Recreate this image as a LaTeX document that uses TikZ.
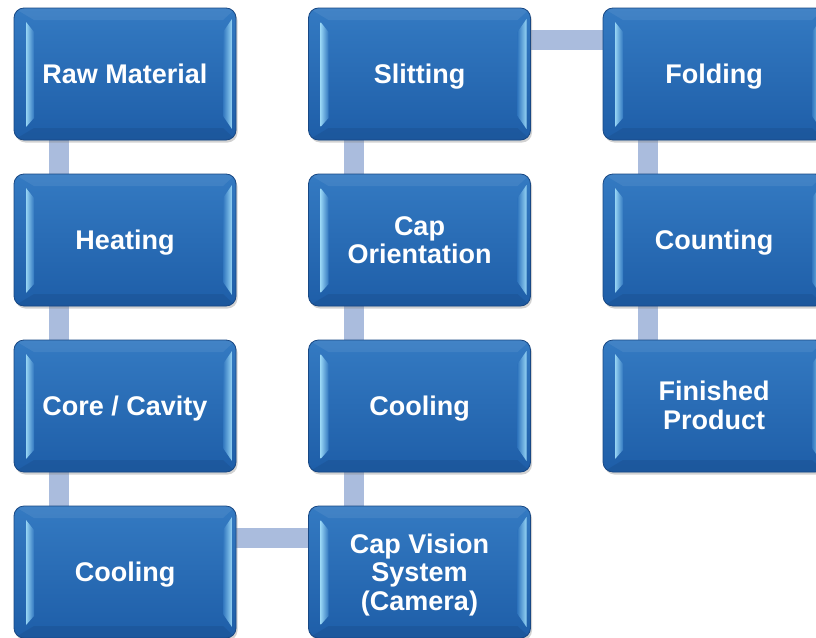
\documentclass[tikz,border=0pt]{standalone}
\usepackage{fontspec}
\setmainfont{Liberation Sans}
\usetikzlibrary{backgrounds,shadows}
\definecolor{boxtop}{RGB}{52,122,194}
\definecolor{boxbot}{RGB}{30,94,168}
\definecolor{boxedge}{RGB}{24,72,132}
\definecolor{hilite}{RGB}{150,212,244}
\definecolor{conn}{RGB}{170,188,221}
\tikzset{
  stepbox/.style={
    rounded corners=10pt, minimum width=222pt, minimum height=132pt,
    draw=boxedge, line width=0.8pt, top color=boxtop, bottom color=boxbot,
    drop shadow={opacity=0.35, shadow xshift=1.5pt, shadow yshift=-2.5pt},
    path picture={
      \begin{scope}[sharp corners]
      % left highlight bevel
      \path[left color=hilite, right color=boxtop!90!boxbot]
        ([xshift=12pt,yshift=-14pt]path picture bounding box.north west)
        -- ([xshift=20pt,yshift=-24pt]path picture bounding box.north west)
        -- ([xshift=20pt,yshift=22pt]path picture bounding box.south west)
        -- ([xshift=12pt,yshift=13pt]path picture bounding box.south west) -- cycle;
      % right highlight bevel
      \path[left color=boxtop!90!boxbot, right color=hilite]
        ([xshift=-13pt,yshift=-24pt]path picture bounding box.north east)
        -- ([xshift=-4pt,yshift=-11pt]path picture bounding box.north east)
        -- ([xshift=-4pt,yshift=11pt]path picture bounding box.south east)
        -- ([xshift=-13pt,yshift=24pt]path picture bounding box.south east) -- cycle;
      % bottom darker bevel
      \fill[boxedge, opacity=0.3]
        ([xshift=20pt,yshift=12pt]path picture bounding box.south west)
        -- ([xshift=-13pt,yshift=12pt]path picture bounding box.south east)
        -- (path picture bounding box.south east)
        -- (path picture bounding box.south west) -- cycle;
      % top lighter bevel
      \fill[white, opacity=0.07]
        ([xshift=20pt,yshift=-12pt]path picture bounding box.north west)
        -- ([xshift=-13pt,yshift=-12pt]path picture bounding box.north east)
        -- (path picture bounding box.north east)
        -- (path picture bounding box.north west) -- cycle;
      \end{scope}
    }
  },
  steptext/.style={text=white, align=center, inner sep=0pt,
    font=\bfseries\fontsize{27}{28.5}\selectfont},
  link/.style={draw=conn, line width=20pt},
}
\begin{document}
\begin{tikzpicture}[x=1pt,y=-1pt]
\useasboundingbox (0,0) rectangle (816,637);
% column 1
\node[stepbox] (raw)   at (125,74)  {};
\node[stepbox] (heat)  at (125,240) {};
\node[stepbox] (core)  at (125,406) {};
\node[stepbox] (cool1) at (125,572) {};
% column 2
\node[stepbox] (slit)   at (419.5,74)  {};
\node[stepbox] (orient) at (419.5,240) {};
\node[stepbox] (cool2)  at (419.5,406) {};
\node[stepbox] (vision) at (419.5,572) {};
% column 3
\node[stepbox] (fold)  at (714,74)  {};
\node[stepbox] (count) at (714,240) {};
\node[stepbox] (fin)   at (714,406) {};
% texts
\node[steptext] (traw)    at ([yshift=0pt]raw.center)     {Raw Material};
\node[steptext] (theat)   at ([yshift=-3pt]heat.center)   {Heating};
\node[steptext] (tcore)   at ([yshift=-3pt]core.center)   {Core / Cavity};
\node[steptext] (tcool1)  at ([yshift=-3pt]cool1.center)  {Cooling};
\node[steptext] (tslit)   at ([yshift=-3pt]slit.center)   {Slitting};
\node[steptext] (torient) at ([yshift=0pt]orient.center)  {Cap\\Orientation};
\node[steptext] (tcool2)  at ([yshift=-3pt]cool2.center)  {Cooling};
\node[steptext] (tvision) at ([yshift=-3pt]vision.center) {Cap Vision\\System\\(Camera)};
\node[steptext] (tfold)   at ([yshift=-3pt]fold.center)   {Folding};
\node[steptext] (tcount)  at ([yshift=-3pt]count.center)  {Counting};
\node[steptext] (tfin)    at ([yshift=0.5pt]fin.center)   {Finished\\Product};
\begin{scope}[on background layer]
  \fill[white] (0,0) rectangle (816,637);
  \draw[link] ([xshift=-66pt]raw.south)  -- ([xshift=-66pt]heat.north);
  \draw[link] ([xshift=-66pt]heat.south) -- ([xshift=-66pt]core.north);
  \draw[link] ([xshift=-66pt]core.south) -- ([xshift=-66pt]cool1.north);
  \draw[link] ([yshift=34.5pt]cool1.east) -- ([yshift=34.5pt]vision.west);
  \draw[link] ([xshift=-66pt]vision.north) -- ([xshift=-66pt]cool2.south);
  \draw[link] ([xshift=-66pt]cool2.north)  -- ([xshift=-66pt]orient.south);
  \draw[link] ([xshift=-66pt]orient.north) -- ([xshift=-66pt]slit.south);
  \draw[link] ([yshift=34pt]slit.east) -- ([yshift=34pt]fold.west);
  \draw[link] ([xshift=-66pt]fold.south)  -- ([xshift=-66pt]count.north);
  \draw[link] ([xshift=-66pt]count.south) -- ([xshift=-66pt]fin.north);
\end{scope}
\end{tikzpicture}
\end{document}
